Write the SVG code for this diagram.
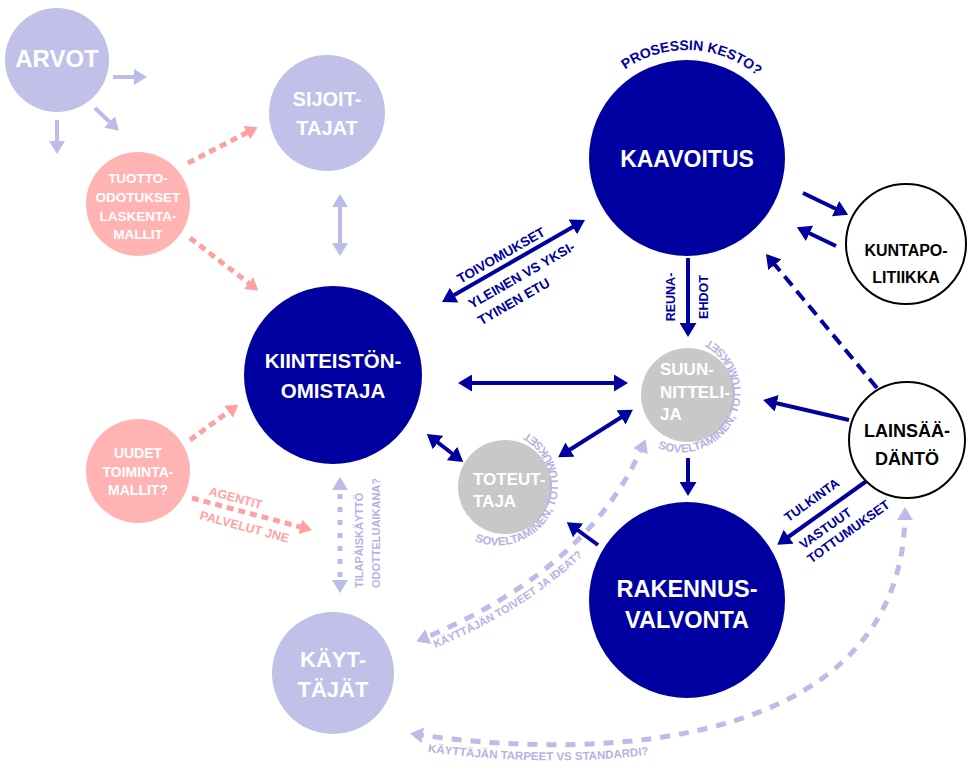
<svg xmlns="http://www.w3.org/2000/svg" width="979" height="777" viewBox="0 0 979 777">
<style>
text{font-family:"Liberation Sans",Arial,sans-serif;font-weight:bold}
.w{fill:#ffffff}
.c{text-anchor:middle}
.b{fill:#0000a0}
.k{fill:#000000}
.lt{fill:#b3b3e3}
.pt{fill:#ffa3a3}
.cb{fill:#0000a0}
.cl{fill:#c0c0e8}
.cp{fill:#ffb3b3}
.cg{fill:#c8c8c8}
.co{fill:#ffffff;stroke:#000000;stroke-width:2}
.ab{stroke:#0000a0;stroke-width:4;fill:none}
.abd{stroke:#0000a0;stroke-width:4;fill:none;stroke-dasharray:12 7}
.al{stroke:#bcbce9;stroke-width:4;fill:none}
.ald{stroke:#bcbce9;stroke-width:5;fill:none;stroke-dasharray:5 8}
.alc{stroke:#bcbce9;stroke-width:5;fill:none;stroke-dasharray:10 9}
.ap{stroke:#ffa0a0;stroke-width:5;fill:none;stroke-dasharray:7 5}
</style>
<defs>
<marker id="mb" viewBox="0 0 14 17" refX="10" refY="8.5" markerWidth="14" markerHeight="17" markerUnits="userSpaceOnUse" orient="auto-start-reverse"><path d="M0,0L14,8.5L0,17z" fill="#0000a0"/></marker>
<marker id="ml" viewBox="0 0 13 16" refX="9" refY="8" markerWidth="13" markerHeight="16" markerUnits="userSpaceOnUse" orient="auto-start-reverse"><path d="M0,0L13,8L0,16z" fill="#bcbce9"/></marker>
<marker id="mp" viewBox="0 0 12 15" refX="8" refY="7.5" markerWidth="12" markerHeight="15" markerUnits="userSpaceOnUse" orient="auto-start-reverse"><path d="M0,0L12,7.5L0,15z" fill="#ffa0a0"/></marker>
<path id="pKesto" d="M585.5,121.1 A108,108 0 0 1 788.5,121.1"/>
<path id="pSuun" d="M657.5,447.9 A60,60 0 1 0 703.5,337"/>
<path id="pTot" d="M474.5,540.9 A60,60 0 1 0 520.5,429"/>
<path id="pToive" d="M420,654 Q602,584 659,444"/>
<path id="pTarve" d="M414,750 C625,781 921,754 920,511"/>
</defs>

<g id="connectors">
<line class="al" x1="113" y1="77" x2="143" y2="77" marker-end="url(#ml)"/>
<line class="al" x1="95" y1="108" x2="116" y2="128" marker-end="url(#ml)"/>
<line class="al" x1="57" y1="120" x2="57" y2="150" marker-end="url(#ml)"/>
<line class="al" x1="340" y1="198" x2="340" y2="252" marker-start="url(#ml)" marker-end="url(#ml)"/>
<line class="ap" x1="188" y1="163" x2="254" y2="129" marker-end="url(#mp)"/>
<line class="ap" x1="190" y1="238" x2="255" y2="288" marker-end="url(#mp)"/>
<line class="ap" x1="190" y1="440" x2="235" y2="407" marker-end="url(#mp)"/>
<line class="ap" x1="192" y1="498" x2="308" y2="529" marker-end="url(#mp)"/>
<line class="ab" x1="445.5" y1="300" x2="581.5" y2="222" marker-start="url(#mb)" marker-end="url(#mb)"/>
<line class="ab" x1="688" y1="258" x2="688" y2="333" marker-end="url(#mb)"/>
<line class="ab" x1="462" y1="383" x2="624" y2="383" marker-start="url(#mb)" marker-end="url(#mb)"/>
<line class="ab" x1="430" y1="436.5" x2="460" y2="459.5" marker-start="url(#mb)" marker-end="url(#mb)"/>
<line class="ab" x1="629.5" y1="412" x2="561.5" y2="455" marker-start="url(#mb)" marker-end="url(#mb)"/>
<line class="ab" x1="688" y1="458" x2="688" y2="492" marker-end="url(#mb)"/>
<line class="ab" x1="598" y1="545" x2="570" y2="524.5" marker-end="url(#mb)"/>
<line class="ab" x1="803" y1="193" x2="844.5" y2="213" marker-end="url(#mb)"/>
<line class="ab" x1="836" y1="246" x2="800.5" y2="229" marker-end="url(#mb)"/>
<line class="abd" x1="877" y1="388" x2="768.5" y2="257" marker-end="url(#mb)"/>
<line class="ab" x1="849" y1="420" x2="767" y2="401" marker-end="url(#mb)"/>
<line class="ab" x1="868" y1="480" x2="780.5" y2="542.5" marker-end="url(#mb)"/>
<line class="ald" x1="340" y1="481" x2="340" y2="589" marker-start="url(#ml)" marker-end="url(#ml)"/>
<path class="alc" d="M644,443 Q590,570 420,640" marker-start="url(#ml)" marker-end="url(#ml)"/>
<path class="alc" d="M414,734 C620,765 905,740 905,511" marker-start="url(#ml)" marker-end="url(#ml)"/>

<g transform="translate(513.5,261) rotate(-29.8)" class="b" font-size="13.5">
<text x="-8" y="-6.5" text-anchor="middle">TOIVOMUKSET</text>
<text x="-60" y="21">YLEINEN VS YKSI-</text>
<text x="-60" y="40">TYINEN ETU</text>
</g>
<g transform="translate(822.5,512.5) rotate(-35.6)" class="b" font-size="13">
<text x="-1.5" y="-12" text-anchor="middle">TULKINTA</text>
<text x="-37" y="19">VASTUUT</text>
<text x="-39" y="35">TOTTUMUKSET</text>
</g>
<g transform="translate(252,514) rotate(14.9)" class="pt" font-size="12.5">
<text x="-20" y="-7" text-anchor="middle">AGENTIT</text>
<text x="-4" y="18.5" text-anchor="middle">PALVELUT JNE</text>
</g>
<text class="b c" font-size="12.5" transform="translate(675,297) rotate(-90)">REUNA-</text>
<text class="b c" font-size="12.5" transform="translate(708,297) rotate(-90)">EHDOT</text>
<text class="lt" font-size="11" transform="translate(363,588) rotate(-90)">TILAPÄISKÄYTTÖ</text>
<text class="lt" font-size="11" transform="translate(380,588) rotate(-90)">ODOTTELUAIKANA?</text>
<text class="lt" font-size="11"><textPath href="#pToive" startOffset="16">KÄYTTÄJÄN TOIVEET JA IDEAT?</textPath></text>
<text class="lt" font-size="11.5"><textPath href="#pTarve" startOffset="14">KÄYTTÄJÄN TARPEET VS STANDARDI?</textPath></text>
</g>

<g id="arvot">
<circle class="cl" cx="57" cy="60" r="52"/>
<text class="w c" x="57" y="67" font-size="24">ARVOT</text>
</g>
<g id="sijoittajat">
<circle class="cl" cx="327" cy="113" r="58"/>
<text class="w c" x="327" y="106" font-size="20">SIJOIT-</text>
<text class="w c" x="327" y="135" font-size="20">TAJAT</text>
</g>
<g id="tuotto">
<circle class="cp" cx="138" cy="204" r="52"/>
<text class="w c" x="138" y="183" font-size="13.5">TUOTTO-</text>
<text class="w c" x="138" y="202" font-size="13.5">ODOTUKSET</text>
<text class="w c" x="138" y="221" font-size="13.5">LASKENTA-</text>
<text class="w c" x="138" y="239" font-size="13.5">MALLIT</text>
</g>
<g id="uudet">
<circle class="cp" cx="138" cy="471" r="52"/>
<text class="w c" x="138" y="458" font-size="14">UUDET</text>
<text class="w c" x="138" y="477" font-size="14">TOIMINTA-</text>
<text class="w c" x="138" y="495" font-size="14">MALLIT?</text>
</g>
<g id="kiinteistonomistaja">
<circle class="cb" cx="333" cy="375" r="89"/>
<text class="w c" x="333" y="368" font-size="20.5">KIINTEISTÖN-</text>
<text class="w c" x="333" y="398" font-size="20.5">OMISTAJA</text>
</g>
<g id="kayttajat">
<circle class="cl" cx="333" cy="673" r="61"/>
<text class="w c" x="333" y="667" font-size="22">KÄYT-</text>
<text class="w c" x="333" y="697" font-size="22">TÄJÄT</text>
</g>
<g id="kaavoitus">
<circle class="cb" cx="687" cy="158" r="98"/>
<text class="w c" x="687" y="167" font-size="23">KAAVOITUS</text>
<text class="b c" font-size="14"><textPath href="#pKesto" startOffset="52%">PROSESSIN KESTO?</textPath></text>
</g>
<g id="kuntapolitiikka">
<circle class="co" cx="906" cy="244" r="60"/>
<text class="k c" x="906" y="256" font-size="16">KUNTAPO-</text>
<text class="k c" x="906" y="283" font-size="16">LITIIKKA</text>
</g>
<g id="suunnittelija">
<circle class="cg" cx="688" cy="395" r="47"/>
<text class="w" x="660" y="375" font-size="17">SUUN-</text>
<text class="w" x="660" y="398" font-size="17">NITTELI-</text>
<text class="w" x="660" y="420" font-size="17">JA</text>
<text class="lt" font-size="11.5"><textPath href="#pSuun">SOVELTAMINEN, TOTTUMUKSET</textPath></text>
</g>
<g id="toteuttaja">
<circle class="cg" cx="505" cy="487" r="47"/>
<text class="w" x="473" y="485" font-size="17">TOTEUT-</text>
<text class="w" x="473" y="507" font-size="17">TAJA</text>
<text class="lt" font-size="11.5"><textPath href="#pTot">SOVELTAMINEN, TOTTUMUKSET</textPath></text>
</g>
<g id="lainsaadanto">
<circle class="co" cx="907" cy="440" r="58"/>
<text class="k c" x="907" y="437" font-size="18">LAINSÄÄ-</text>
<text class="k c" x="907" y="465" font-size="18">DÄNTÖ</text>
</g>
<g id="rakennusvalvonta">
<circle class="cb" cx="687" cy="600" r="98"/>
<text class="w c" x="687" y="597" font-size="23.5">RAKENNUS-</text>
<text class="w c" x="687" y="628" font-size="23.5">VALVONTA</text>
</g>
</svg>
